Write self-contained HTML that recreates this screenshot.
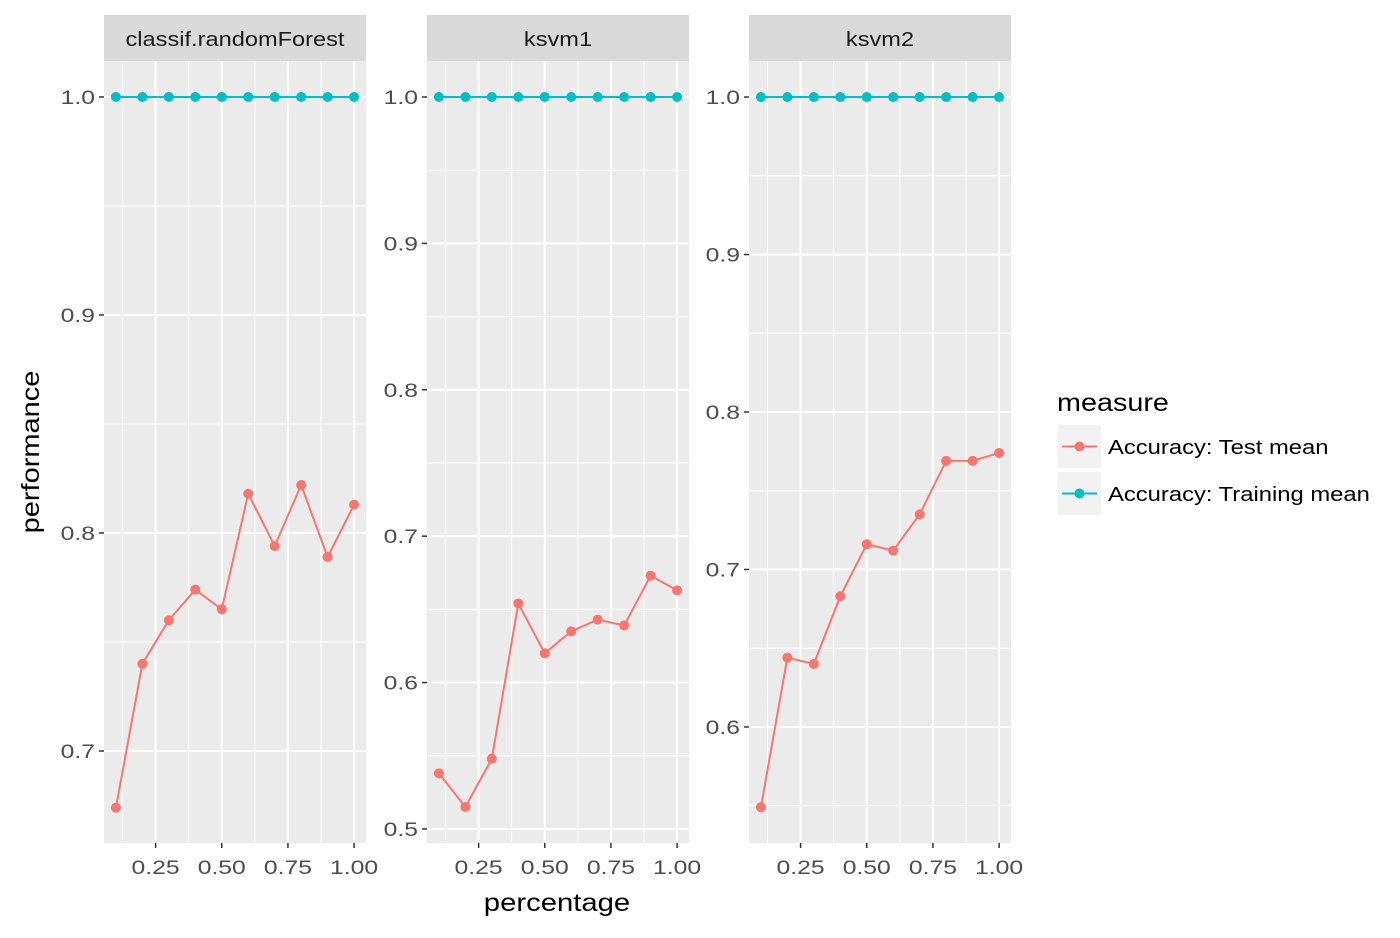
<!DOCTYPE html>
<html><head><meta charset="utf-8"><style>
body{margin:0;background:#fff;}
svg text{font-family:"Liberation Sans",sans-serif;}
</style></head><body>
<svg id="chart" width="1400" height="933" xmlns="http://www.w3.org/2000/svg"></svg>
<script>
const panelNames = ["classif.randomForest","ksvm1","ksvm2"];
const xValues = [0.1,0.2,0.3,0.4,0.5,0.6,0.7,0.8,0.9,1.0];
const testRF = [0.674,0.740,0.760,0.774,0.765,0.818,0.794,0.822,0.789,0.813];
const testK1 = [0.538,0.515,0.548,0.654,0.620,0.635,0.643,0.639,0.673,0.663];
const testK2 = [0.549,0.644,0.640,0.683,0.716,0.712,0.735,0.769,0.769,0.774];
const trainRF = [1,1,1,1,1,1,1,1,1,1];
const trainK1 = [1,1,1,1,1,1,1,1,1,1];
const trainK2 = [1,1,1,1,1,1,1,1,1,1];
const xTicks = [0.25,0.5,0.75,1.0];
const xTickLabels = ["0.25","0.50","0.75","1.00"];
const yTicksRF = [0.7,0.8,0.9,1.0];
const yTicksK1 = [0.5,0.6,0.7,0.8,0.9,1.0];
const yTicksK2 = [0.6,0.7,0.8,0.9,1.0];

const NS="http://www.w3.org/2000/svg";
const svg=document.getElementById('chart');
function mk(tag,attrs,parent){const e=document.createElementNS(NS,tag);for(const k in attrs)e.setAttribute(k,attrs[k]);(parent||svg).appendChild(e);return e;}

const panels=[
 {x0:104,x1:366,test:testRF,train:trainRF,ticks:yTicksRF,yTop:1.0165,yBot:0.6578},
 {x0:427,x1:689,test:testK1,train:trainK1,ticks:yTicksK1,yTop:1.0246,yBot:0.4904},
 {x0:749,x1:1011,test:testK2,train:trainK2,ticks:yTicksK2,yTop:1.0229,yBot:0.5263}
];
const plotTop=61,plotBot=843;
const RED="#F8766D",TEAL="#00BFC4";

panels.forEach((p,i)=>{
 const g=mk('g',{});
 
 
 const xMin=0.055,xMax=1.045;
 const xs=v=>p.x0+(v-xMin)/(xMax-xMin)*(p.x1-p.x0);
 const ys=v=>plotTop+(p.yTop-v)/(p.yTop-p.yBot)*(plotBot-plotTop);
 const bg=mk('rect',{x:p.x0,y:plotTop,width:p.x1-p.x0,height:plotBot-plotTop,fill:'#EBEBEB'},g);
 
 
 const strip=mk('rect',{x:p.x0,y:15,width:p.x1-p.x0,height:46,fill:'#D9D9D9'},g);
 
 
 const st=mk('text',{x:(p.x0+p.x1)/2,y:46,'text-anchor':'middle','font-size':20,fill:'#1A1A1A','data-sx':1.18},g);
 st.textContent=panelNames[i];
 
 
 for(let k=0;k<p.ticks.length;k++){
  const m=p.ticks[k]-0.05; if(m>p.yBot) mk('line',{x1:p.x0,x2:p.x1,y1:ys(m),y2:ys(m),stroke:'#fff','stroke-width':1},g);
 }
 const lastM=p.ticks[p.ticks.length-1]+0.05; if(lastM<p.yTop) mk('line',{x1:p.x0,x2:p.x1,y1:ys(lastM),y2:ys(lastM),stroke:'#fff','stroke-width':1},g);
 [0.125,0.375,0.625,0.875].forEach(m=>mk('line',{x1:xs(m),x2:xs(m),y1:plotTop,y2:plotBot,stroke:'#fff','stroke-width':1},g));
 p.ticks.forEach(t=>{
  mk('line',{x1:p.x0,x2:p.x1,y1:ys(t),y2:ys(t),stroke:'#fff','stroke-width':2},g);
  mk('line',{x1:p.x0-5,x2:p.x0,y1:ys(t),y2:ys(t),stroke:'#333','stroke-width':1.5},g);
  const tl=mk('text',{x:p.x0-9,y:ys(t)+7,'text-anchor':'end','font-size':19,fill:'#4D4D4D','data-sx':1.3},g);
  tl.textContent=t.toFixed(1);
  
  
 });
 xTicks.forEach((t,k)=>{
  mk('line',{x1:xs(t),x2:xs(t),y1:plotTop,y2:plotBot,stroke:'#fff','stroke-width':2},g);
  mk('line',{x1:xs(t),x2:xs(t),y1:plotBot,y2:plotBot+5,stroke:'#333','stroke-width':1.5},g);
  const tl=mk('text',{x:xs(t),y:plotBot+31,'text-anchor':'middle','font-size':19,fill:'#4D4D4D','data-sx':1.3},g);
  tl.textContent=xTickLabels[k];
  
  
 });
 [[p.test,RED,'test-mean'],[p.train,TEAL,'training-mean']].forEach(([arr,col,nm])=>{
  const pts=arr.map((v,k)=>xs(xValues[k])+','+ys(v)).join(' ');
  const pl=mk('polyline',{points:pts,fill:'none',stroke:col,'stroke-width':2},g);
  
  
  arr.forEach((v,k)=>{
   const c=mk('circle',{cx:xs(xValues[k]),cy:ys(v),r:5,fill:col},g);
   
   
  });
 });
});

const yt=mk('text',{x:0,y:0,transform:'translate(39,452) rotate(-90)','text-anchor':'middle','font-size':25,fill:'#000','data-sx':1.16});
yt.textContent='performance';


const xt=mk('text',{x:557,y:911,'text-anchor':'middle','font-size':25,fill:'#000','data-sx':1.17});
xt.textContent='percentage';



const lg=mk('g',{});


const lt=mk('text',{x:1057,y:411,'font-size':25,fill:'#000','data-sx':1.15},lg);
lt.textContent='measure';


[["Accuracy: Test mean",RED,425],["Accuracy: Training mean",TEAL,472]].forEach(([lab,col,y])=>{
 const e=mk('g',{},lg);
 
 
 mk('rect',{x:1058,y:y,width:43,height:43,fill:'#F2F2F2'},e);
 mk('line',{x1:1062,x2:1097,y1:y+21.5,y2:y+21.5,stroke:col,'stroke-width':2},e);
 mk('circle',{cx:1079.5,cy:y+21.5,r:5,fill:col},e);
 const t=mk('text',{x:1108,y:y+29,'font-size':20,fill:'#000','data-sx':1.19},e);
 t.textContent=lab;
});

document.querySelectorAll('text[data-sx]').forEach(t=>{
 const f=parseFloat(t.getAttribute('data-sx'));
 const L=t.getComputedTextLength();
 if(L>0){t.setAttribute('textLength',(L*f).toFixed(1));t.setAttribute('lengthAdjust','spacingAndGlyphs');}
});
</script>
</body></html>
